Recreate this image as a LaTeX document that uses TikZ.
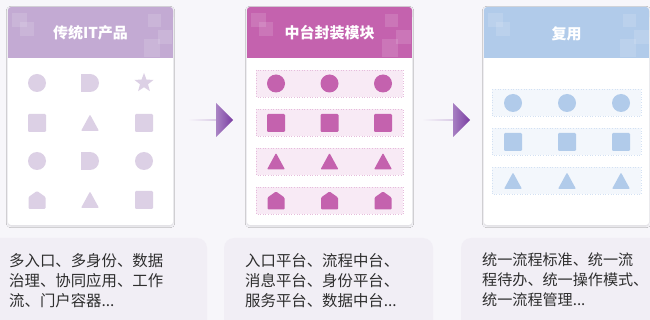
\documentclass[tikz,border=0pt]{standalone}
\usepackage{fontspec}
\newfontfamily\cjk{Noto Sans CJK SC}
\usetikzlibrary{shapes.arrows,shadows.blur}
\definecolor{bg}{HTML}{F7F6FA}
\definecolor{boxbg}{HTML}{F1EEF5}
\definecolor{hdA}{HTML}{C3AAD3}
\definecolor{shA}{HTML}{DCD0E5}
\definecolor{hdB}{HTML}{C462AE}
\definecolor{stB}{HTML}{F8EAF5}
\definecolor{stBd}{HTML}{E6BCDC}
\definecolor{hdC}{HTML}{B1CBEA}
\definecolor{stC}{HTML}{F3F7FC}
\definecolor{stCd}{HTML}{D3E1F3}
\definecolor{arr}{HTML}{7A3DA2}
\definecolor{txt}{HTML}{2E2E2E}
\tikzset{
  card/.style={fill=white, rounded corners=3pt, blur shadow={shadow blur steps=6, shadow xshift=0pt, shadow yshift=-1pt, shadow opacity=12, shadow blur extra rounding=2pt}},
  title/.style={text=white, font=\cjk\bfseries\fontsize{15}{18}\selectfont},
  deco/.style={fill=white, fill opacity=0.13},
  strip/.style={dotted, line width=0.6pt},
  infobox/.style={fill=boxbg, rounded corners=10pt},
  info/.style={text=txt, font=\cjk\fontsize{15.4}{20}\selectfont, align=left, anchor=north west, inner sep=0pt},
  flow/.style={single arrow, single arrow tip angle=90, single arrow head extend=8.5pt, minimum width=34pt, inner sep=0pt, left color=bg, right color=arr, draw=none},
  circ/.pic={\fill[pic actions] (0,0) circle (9);},
  sq/.pic={\fill[pic actions, rounded corners=1.2pt] (-9,-9) rectangle (9,9);},
  tri/.pic={\fill[pic actions, rounded corners=1pt] (0,-8.5) -- (9,8) -- (-9,8) -- cycle;},
  dee/.pic={\fill[pic actions] (-9,-9) rectangle (0.5,9); \fill[pic actions] (0,0) circle (9);},
  house/.pic={\fill[pic actions, rounded corners=1pt] (-8.5,9) -- (-8.5,-3) -- (0,-9) -- (8.5,-3) -- (8.5,9) -- cycle;},
  star/.pic={\fill[pic actions] (0,-10) -- (-2.47,-3.40) -- (-9.51,-3.09) -- (-3.99,1.30) -- (-5.88,8.09) -- (0,4.2) -- (5.88,8.09) -- (3.99,1.30) -- (9.51,-3.09) -- (2.47,-3.40) -- cycle;},
}
\begin{document}
\begin{tikzpicture}[x=1pt,y=-1pt]
\fill[bg] (0,0) rectangle (650,320);
\useasboundingbox (0,0) rectangle (650,320);

% ---------- card 1 ----------
\path[card] (8,7) rectangle (173,225);
\fill[hdA, rounded corners=3pt] (8,7) rectangle (173,20);
\fill[hdA] (8,15) rectangle (173,58);
\node[title] (t1) at (90.5,33) {传统IT产品};
\fill[deco] (12,13) rectangle (27,27);
\fill[deco] (20,22) rectangle (34,36);
\fill[deco] (148,14) rectangle (161,27);
\fill[deco] (158,30) rectangle (172,44);
\fill[deco] (144,39) rectangle (160,57);
\pic[fill=shA] at (37,83) {circ};
\pic[fill=shA] at (90,83) {dee};
\pic[fill=shA] at (144,83) {star};
\pic[fill=shA] at (37,123) {sq};
\pic[fill=shA] at (90,123) {tri};
\pic[fill=shA] at (144,123) {sq};
\pic[fill=shA] at (37,161) {circ};
\pic[fill=shA] at (90,161) {dee};
\pic[fill=shA] at (144,161) {circ};
\pic[fill=shA] at (37,200) {house};
\pic[fill=shA] at (90,200) {tri};
\pic[fill=shA] at (144,200) {sq};

% ---------- card 2 ----------
\path[card] (247,7) rectangle (412,225);
\fill[hdB, rounded corners=3pt] (247,7) rectangle (412,20);
\fill[hdB] (247,15) rectangle (412,58);
\node[title] (t2) at (329.5,33) {中台封装模块};
\fill[deco] (251,13) rectangle (266,27);
\fill[deco] (259,22) rectangle (273,36);
\fill[deco] (385,14) rectangle (398,27);
\fill[deco] (396,30) rectangle (411,44);
\fill[deco] (382,39) rectangle (398,57);
\foreach \y/\s in {83.5/circ,123/sq,161.5/tri,200.5/house}{
  \path[strip, fill=stB, draw=stBd] (256,\y-13.5) rectangle (403,\y+13.5);
  \foreach \x in {276,329.5,383}{ \pic[fill=hdB] at (\x,\y) {\s}; }
}

% ---------- card 3 ----------
\path[card] (484,7) rectangle (649,225);
\fill[hdC, rounded corners=3pt] (484,7) rectangle (649,20);
\fill[hdC] (484,15) rectangle (649,58);
\node[title] (t3) at (566.5,34) {复用};
\fill[deco] (488,13) rectangle (503,27);
\fill[deco] (496,22) rectangle (510,36);
\fill[deco] (623,14) rectangle (636,27);
\fill[deco] (634,30) rectangle (649,44);
\fill[deco] (620,39) rectangle (636,57);
\foreach \y/\s in {103/circ,142/sq,181/tri}{
  \path[strip, fill=stC, draw=stCd] (492,\y-13.5) rectangle (641,\y+13.5);
  \foreach \x in {513,567,621}{ \pic[fill=hdC] at (\x,\y) {\s}; }
}

% ---------- arrows ----------
\node[flow, minimum height=45pt] (a1) at (210.5,120) {};
\node[flow, minimum height=48pt] (a2) at (446,120) {};

% ---------- info boxes ----------
\path[infobox] (-10,238) rectangle (207,335);
\path[infobox] (224,238) rectangle (433,335);
\path[infobox] (461,238) rectangle (665,335);
\node[info] (i1) at (9,253) {多入口、多身份、数据\\治理、协同应用、工作\\流、门户容器...};
\node[info] (i2) at (245,253) {入口平台、流程中台、\\消息平台、身份平台、\\服务平台、数据中台...};
\node[info, font=\cjk\fontsize{15.1}{20}\selectfont] (i3) at (482,253) {统一流程标准、统一流\\程待办、统一操作模式、\\统一流程管理...};
\end{tikzpicture}
\end{document}
